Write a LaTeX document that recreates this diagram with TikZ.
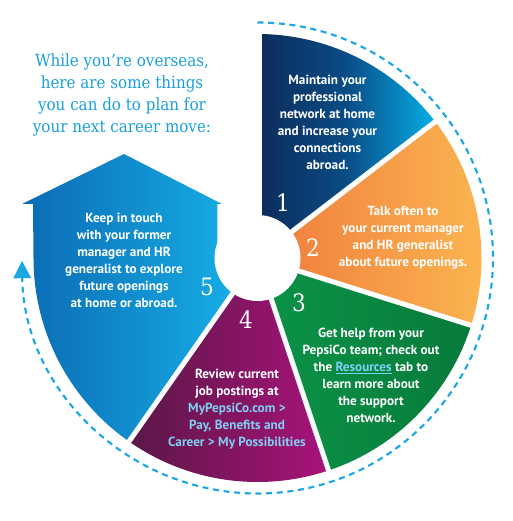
\documentclass[tikz,border=0pt]{standalone}
\usepackage{fontspec}
\setsansfont{PT Sans}
\newfontfamily\slabfont{DejaVu Serif}[FakeStretch=0.9]
\usepackage{xcolor}
\usepackage{tikz}
\usetikzlibrary{arrows.meta}
\definecolor{ringc}{HTML}{1BA7E1}
\definecolor{headc}{HTML}{1A9FDB}
\definecolor{linkc}{HTML}{80CFF2}
\definecolor{navyL}{HTML}{0C2C5A}
\definecolor{navyM}{HTML}{0A4C86}
\definecolor{navyR}{HTML}{05AEE6}
\definecolor{orgL}{HTML}{F07A3C}
\definecolor{orgR}{HTML}{FBB751}
\definecolor{grnL}{HTML}{0B9448}
\definecolor{grnR}{HTML}{077A3B}
\definecolor{purL}{HTML}{5A1746}
\definecolor{purR}{HTML}{A8137B}
\definecolor{bluL}{HTML}{0B6BB4}
\definecolor{bluR}{HTML}{17B4EB}
\tikzset{
  txt/.style={text=white,align=center,inner sep=0pt,font=\sffamily\bfseries\fontsize{9.9}{12.75}\selectfont},
  numb/.style={text=white,inner sep=0pt,font=\slabfont\fontsize{18}{18}\selectfont},
  head/.style={text=headc,align=center,inner sep=0pt,font=\slabfont\fontsize{12.6}{16.5}\selectfont},
  gapl/.style={white,line width=3.75pt},
  ring/.style={ringc,line width=1.6pt,dash pattern=on 4.5pt off 3.5pt,-{Triangle[length=13pt,width=13pt]}}
}

\begin{document}
\begin{tikzpicture}[x=0.75pt,y=0.75pt]
\useasboundingbox (-257.5,-263) rectangle (254.5,258);
\shade[left color=navyL,right color=navyR,middle color=navyM] (0,0) -- (90:224) arc[start angle=90,end angle=37.5,radius=224] -- cycle;
\shade[left color=orgL,right color=orgR] (0,0) -- (37.5:224) arc[start angle=37.5,end angle=-17.5,radius=224] -- cycle;
\shade[left color=grnL,right color=grnR] (0,0) -- (-17.5:224) arc[start angle=-17.5,end angle=-71.5,radius=224] -- cycle;
\shade[left color=purL,right color=purR] (0,0) -- (-71.5:224) arc[start angle=-71.5,end angle=-125,radius=224] -- cycle;
\shade[left color=bluL,right color=bluR] (0,0) -- (-125:224) arc[start angle=-125,end angle=-180,radius=224]
  -- (-224.5,54) -- (-235.5,54) -- (-133.5,104) -- (-35.5,54) -- (-40,54) -- (-40,0) -- cycle;
\foreach \a in {37.5,-17.5,-71.5,-125} \draw[gapl] (0,0) -- (\a:228);
\draw[white,line width=6.75pt] (0,0) -- (90:228);
\fill[white] (0,0) circle[radius=43];
\draw[ring] (90:235.5) arc[start angle=90,end angle=-179.3,radius=235.5];
\node[head] (intro) at (-135.5,163) {While you’re overseas,\\here are some things\\you can do to plan for\\your next career move:};
\foreach \k/\x/\y in {1/25.5/55,2/55.5/10,3/41.5/-45,4/-11.5/-62,5/-50.5/-29}
  \node[numb] (n\k) at (\x,\y) {\k};
\node[txt] (t1) at (70,135.5) {Maintain your\\professional\\network at home\\and increase your\\connections\\abroad.};
\node[txt] (t2) at (145.5,20.5) {Talk often to\\your current manager\\and HR generalist\\about future openings.};
\node[txt] (t3) at (113.5,-117) {Get help from your\\PepsiCo team; check out\\the {\color{linkc}\underline{Resources}} tab to\\learn more about\\the support\\network.};
\node[txt] (t4) at (-20.5,-151) {Review current\\job postings at\\{\color{linkc}MyPepsiCo.com >}\\{\color{linkc}Pay, Benefits and}\\{\color{linkc}Career > My Possibilities}};
\node[txt] (t5) at (-133.5,-2.5) {Keep in touch\\with your former\\manager and HR\\generalist to explore\\future openings\\at home or abroad.};
\end{tikzpicture}
\end{document}
